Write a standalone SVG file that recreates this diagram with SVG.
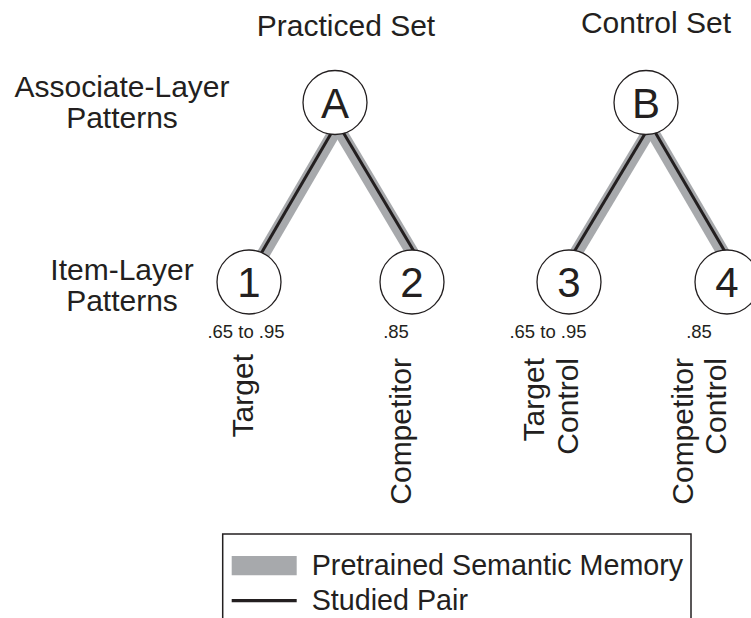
<svg xmlns="http://www.w3.org/2000/svg" width="751" height="618" viewBox="0 0 751 618">
  <style>
    text { font-family: "Liberation Sans", Arial, Helvetica, sans-serif; fill: #231f20; }
    .big { font-size: 30px; }
    .key { font-size: 28.7px; }
    .mid { text-anchor: middle; }
    .end { text-anchor: end; }
    .letter { font-size: 42px; text-anchor: middle; }
    .val { font-size: 18.5px; text-anchor: middle; }
    .node { fill: #ffffff; stroke: #231f20; stroke-width: 1.3; }
    .mem { stroke: #a7a9ac; stroke-width: 13; fill: none; }
    .pair { stroke: #231f20; stroke-width: 3; fill: none; }
    .frame { fill: none; stroke: #231f20; stroke-width: 1.5; }
  </style>

  <!-- column and row headings -->
  <text class="big mid" x="346" y="36">Practiced Set</text>
  <text class="big mid" x="656" y="33">Control Set</text>
  <text class="big mid" x="122" y="97">Associate-Layer</text>
  <text class="big mid" x="122" y="128">Patterns</text>
  <text class="big mid" x="122" y="280">Item-Layer</text>
  <text class="big mid" x="122" y="311">Patterns</text>

  <!-- links: thick grey = semantic memory, thin black = studied pair -->
  <g id="connectors">
    <line class="mem" x1="344.4" y1="115" x2="254.0" y2="270"/>
    <line class="mem" x1="330.4" y1="115" x2="423.8" y2="272"/>
    <line class="pair" x1="336.0" y1="125" x2="251.5" y2="270"/>
    <line class="pair" x1="338.8" y1="125" x2="426.3" y2="272"/>

    <line class="mem" x1="658.7" y1="115" x2="564.5" y2="272"/>
    <line class="mem" x1="642.6" y1="115" x2="734.4" y2="272"/>
    <line class="pair" x1="650.2" y1="125" x2="562.0" y2="272"/>
    <line class="pair" x1="650.9" y1="125" x2="736.9" y2="272"/>
  </g>

  <g id="node-A">
    <circle class="node" cx="335" cy="102.5" r="32"/>
    <text class="letter" x="335" y="117.5">A</text>
  </g>
  <g id="node-B">
    <circle class="node" cx="646" cy="102.5" r="32"/>
    <text class="letter" x="646" y="117.5">B</text>
  </g>

  <g id="node-1">
    <circle class="node" cx="249" cy="282" r="32"/>
    <text class="letter" x="249" y="297">1</text>
    <text class="val" x="246" y="338">.65 to .95</text>
    <text class="big end" transform="translate(253,354) rotate(-90)">Target</text>
  </g>
  <g id="node-2">
    <circle class="node" cx="412" cy="282" r="32"/>
    <text class="letter" x="412" y="297">2</text>
    <text class="val" x="396" y="338">.85</text>
    <text class="big end" transform="translate(411,358) rotate(-90)">Competitor</text>
  </g>
  <g id="node-3">
    <circle class="node" cx="569" cy="282" r="32"/>
    <text class="letter" x="569" y="297">3</text>
    <text class="val" x="548" y="338">.65 to .95</text>
    <text class="big end" transform="translate(544,358) rotate(-90)">Target</text>
    <text class="big end" transform="translate(577.5,358) rotate(-90)">Control</text>
  </g>
  <g id="node-4">
    <circle class="node" cx="727" cy="282" r="32"/>
    <text class="letter" x="727" y="297">4</text>
    <text class="val" x="699" y="338">.85</text>
    <text class="big end" transform="translate(692.5,358) rotate(-90)">Competitor</text>
    <text class="big end" transform="translate(726,358) rotate(-90)">Control</text>
  </g>

  <!-- key -->
  <g id="legend">
    <rect class="frame" x="222.7" y="534" width="468.3" height="110"/>
    <line class="mem" x1="231.7" y1="565.7" x2="296.7" y2="565.7" style="stroke-width:19.3"/>
    <line class="pair" x1="231.7" y1="600.7" x2="296.7" y2="600.7" style="stroke-width:3.3"/>
    <text class="key" x="311.7" y="575">Pretrained Semantic Memory</text>
    <text class="key" x="311.7" y="610">Studied Pair</text>
  </g>
</svg>
